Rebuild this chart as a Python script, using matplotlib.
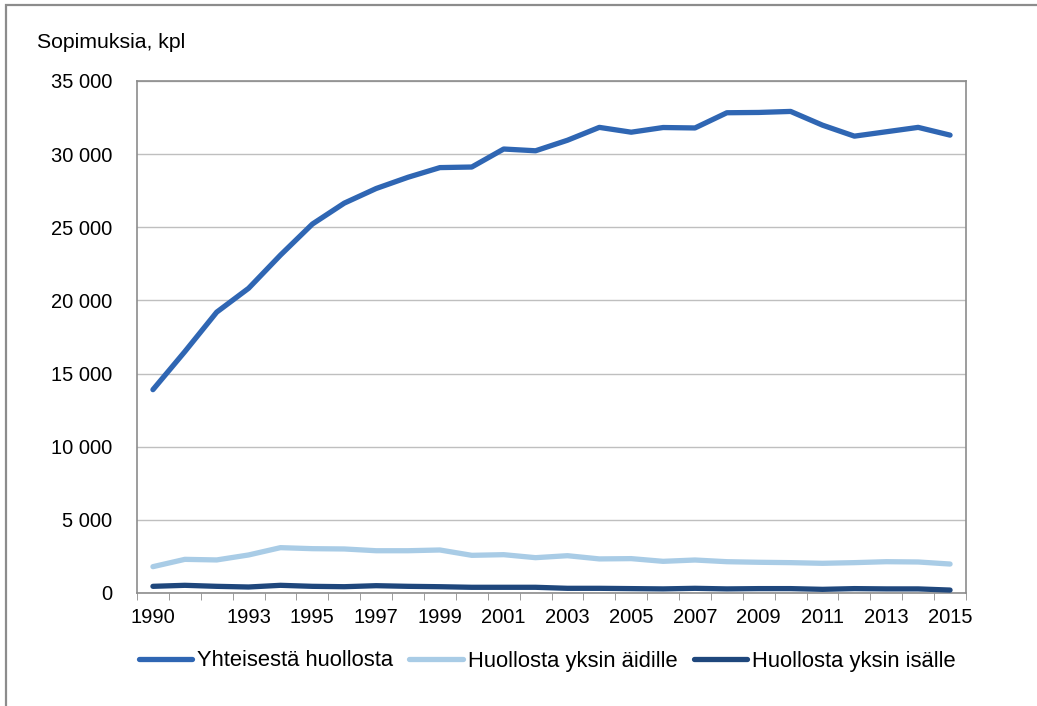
import matplotlib
matplotlib.use("Agg")
import matplotlib.pyplot as plt
from matplotlib.patches import Rectangle
from matplotlib.lines import Line2D

years = list(range(1990, 2016))
yhteinen = [13900, 16500, 19200, 20830, 23100, 25220, 26650, 27650, 28420, 29080,
            29120, 30350, 30230, 30950, 31830, 31500, 31820, 31790, 32830, 32850,
            32920, 31980, 31230, 31530, 31830, 31300]
aidille = [1800, 2300, 2260, 2600, 3100, 3030, 3010, 2890, 2890, 2940,
           2575, 2620, 2415, 2550, 2330, 2350, 2165, 2255, 2140, 2100,
           2075, 2030, 2075, 2140, 2120, 1980]
isalle = [456, 525, 456, 410, 525, 456, 430, 500, 456, 430,
          390, 390, 390, 320, 320, 300, 280, 320, 280, 300,
          300, 250, 300, 280, 280, 200]
series_names = ["Yhteisestä huollosta", "Huollosta yksin äidille", "Huollosta yksin isälle"]
colors = ["#2F66B3", "#A9CCE6", "#1F477C"]
tick_years = [1990, 1993, 1995, 1997, 1999, 2001, 2003, 2005, 2007, 2009, 2011, 2013, 2015]
yticks = list(range(0, 35001, 5000))

plt.rcParams['font.family'] = ['Liberation Sans', 'DejaVu Sans']

W, H = 1037, 706
fig = plt.figure(figsize=(W / 100, H / 100), dpi=100)
fig.patches.append(Rectangle((5.5 / W, -0.1), 1.2, 1 - 5 / H + 0.1, transform=fig.transFigure,
                             fill=False, edgecolor="#8C8C8C", linewidth=1.6))

ax = fig.add_axes([137 / W, 1 - 593 / H, (966 - 137) / W, (593 - 81) / H])
for vals, c in zip([yhteinen, aidille, isalle], colors):
    ax.plot(years, vals, color=c, linewidth=3.8, solid_capstyle="round", solid_joinstyle="round", zorder=3)

ax.set_xlim(1989.5, 2015.5)
ax.set_ylim(0, 35000)
ax.set_yticks(yticks)
ax.set_yticklabels([f"{v:,}".replace(",", " ") for v in yticks], fontsize=14.5)
ax.set_xticks(tick_years)
ax.set_xticklabels([str(y) for y in tick_years], fontsize=14.5)
ax.set_xticks([y + 0.5 for y in range(1989, 2016)], minor=True)
ax.tick_params(axis="x", which="major", length=0, pad=11)
ax.tick_params(axis="x", which="minor", length=5, color="#8C8C8C")
ax.tick_params(axis="y", length=0, pad=18)
ax.grid(axis="y", color="#BFBFBF", linewidth=1)
ax.set_axisbelow(True)
for s in ax.spines.values():
    s.set_color("#8C8C8C")
    s.set_linewidth(1.2)

fig.text(37 / W, 1 - 42 / H, "Sopimuksia, kpl", fontsize=15.3, va="center", ha="left")

handles = [Line2D([0], [0], color=c, linewidth=3.8, solid_capstyle="round") for c in colors]
fig.legend(handles, series_names, loc="center", bbox_to_anchor=(547 / W, 1 - 661 / H), ncol=3,
           frameon=False, fontsize=15.8, handlelength=2.45, handletextpad=0.2, columnspacing=0.75,
           borderpad=0, borderaxespad=0)

fig.savefig("out.png", dpi=100)
